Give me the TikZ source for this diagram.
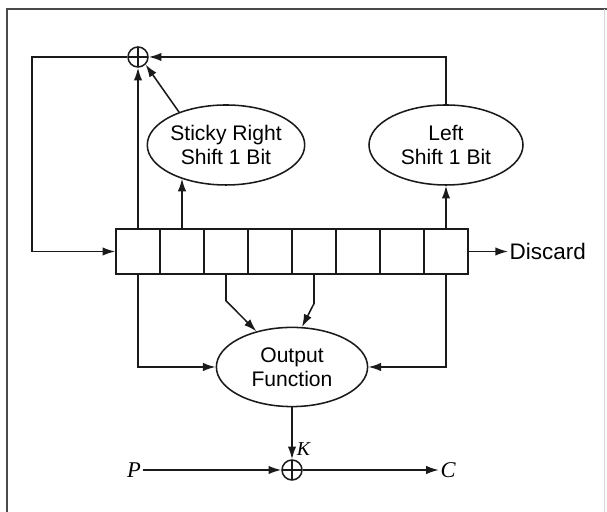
\documentclass[tikz,border=0pt]{standalone}
\usepackage{fontspec}
\setmainfont{Liberation Serif}
\setsansfont{Liberation Sans}
\usetikzlibrary{arrows.meta,positioning,shapes.geometric}
\definecolor{framefg}{HTML}{4A4A4A}
\definecolor{framefaint}{HTML}{D8D8D8}
\definecolor{linefg}{HTML}{1A1A1A}

\begin{document}
\begin{tikzpicture}[
  font=\sffamily\fontsize{15}{17}\selectfont,
  >=Latex,
  cellbox/.style={
    draw=linefg,
    line width=1.1pt,
    minimum width=1.1cm,
    minimum height=1.125cm,
    inner sep=0pt
  },
  oval/.style={
    ellipse,
    draw=linefg,
    line width=1.1pt,
    align=center,
    inner sep=0pt,
    minimum width=3.85cm,
    minimum height=2cm
  },
  xorop/.style={
    circle,
    draw=linefg,
    line width=1.1pt,
    minimum size=0.5cm,
    inner sep=0pt,
    path picture={
      \draw[line width=0.8pt]
        (path picture bounding box.north) -- (path picture bounding box.south)
        (path picture bounding box.west) -- (path picture bounding box.east);
    }
  },
  arr/.style={
    -{Latex[length=9pt,width=6pt]},
    line width=1.1pt,
    draw=linefg
  },
  sym/.style={
    font=\rmfamily\itshape\fontsize{16}{18}\selectfont,
    inner sep=1pt
  }
]
\useasboundingbox (0,0) rectangle (15.175,12.8);

% --- Frame ---
\draw[framefg, line width=1.4pt] (0.175,0) -- (0.175,12.575) -- (15.175,12.575);
\draw[framefaint, line width=0.6pt] (15.1,0) -- (15.1,12.575);

% --- Shift register ---
\foreach \i in {1,...,8}
  \node[cellbox] (c\i) at ({3.45+1.1*(\i-1)},6.5125) {};

% --- Shift functions and feedback xor ---
\node[xorop] (xor1) at (3.45,11.375) {};
\node[oval] (sticky) at (5.65,9.175) {Sticky Right\\Shift 1 Bit};
\node[oval] (lshift) at (11.15,9.175) {Left\\Shift 1 Bit};

\draw[arr] (c1.north) -- (xor1.south);
\draw[arr] (c2.north) -- (c2.north |- sticky.217);
\draw[arr] (sticky.145) -- (xor1.south east);
\draw[arr] (c8.north) -- (lshift.south);
\draw[arr] (lshift.north) |- (xor1.east);
\draw[arr] (xor1.west) -- ++(-2.375,0) |- (c1.west);

% Discarded bit
\node[anchor=west, inner sep=1pt, font=\sffamily\fontsize{16}{18}\selectfont]
  (discard) at (12.7,6.5125) {Discard};
\draw[arr] (c8.east) -- (discard.west);

% --- Output function ---
\node[oval, minimum width=3.78cm, minimum height=1.98cm] (outf) at (7.3,3.625)
  {Output\\Function};

\draw[arr] (c1.south) |- (outf.west);
\draw[arr] (c8.south) |- (outf.east);
\draw[arr] (c3.south) -- ++(0,-0.65) -- (outf.135);
\draw[arr] (c5.south) -- ++(0,-0.72) -- (outf.76);

% --- Keystream xor ---
\node[xorop] (xor2) at (7.3,1.05) {};
\node[sym] (ptext) at (3.35,1.05) {P};
\node[sym] (ctext) at (11.2,1.05) {C};

\draw[arr] (outf.south) -- (xor2.north)
  node[pos=0.8, right=2pt, sym, font=\rmfamily\itshape\fontsize{14}{16}\selectfont] {K};
\draw[arr] (ptext.east) -- (xor2.west);
\draw[arr] (xor2.east) -- (ctext.west);

\end{tikzpicture}
\end{document}
